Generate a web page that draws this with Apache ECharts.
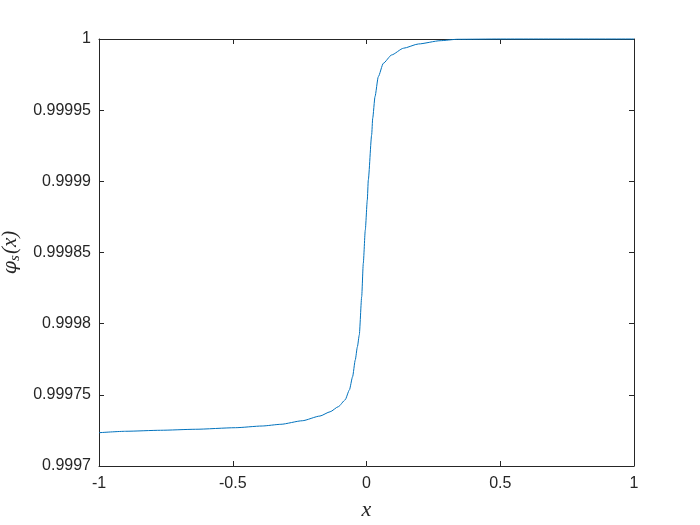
<!DOCTYPE html>
<html>
<head>
<meta charset="utf-8">
<script src="https://cdn.jsdelivr.net/npm/echarts@6/dist/echarts.min.js"></script>
<style>html,body{margin:0;padding:0;background:#fff}#c{width:700px;height:525px}</style>
</head>
<body>
<div id="c"></div>
<script>
const xVals = [-1, -0.9, -0.77, -0.64, -0.49, -0.39, -0.32, -0.24, -0.174, -0.136, -0.105, -0.08, -0.064, -0.052, -0.042, -0.034, -0.027, -0.018, -0.012, -0.0045, 0.003, 0.0067, 0.0193, 0.0232, 0.0318, 0.0441, 0.0628, 0.094, 0.138, 0.194, 0.275, 0.34, 0.5, 0.75, 1];
const yVals = [0.9997234, 0.9997244, 0.9997251, 0.9997258, 0.9997269, 0.9997281, 0.9997293, 0.9997318, 0.9997351, 0.9997381, 0.9997417, 0.9997464, 0.9997534, 0.9997627, 0.9997745, 0.9997838, 0.999792, 0.9998189, 0.9998424, 0.9998658, 0.9998869, 0.9999009, 0.9999326, 0.9999443, 0.9999595, 0.9999735, 0.9999829, 0.9999888, 0.9999935, 0.9999965, 0.9999988, 0.9999998, 1, 1, 1];
const xTicks = [-1, -0.5, 0, 0.5, 1];
const yTicks = [0.9997, 0.99975, 0.9998, 0.99985, 0.9999, 0.99995, 1];

const axisCol = '#262626';
const labelFont = {color: axisCol, fontSize: 16, fontFamily: 'Liberation Sans, Arial, sans-serif'};
const fmt = v => String(Number(v.toFixed(5)));

const chart = echarts.init(document.getElementById('c'), null, {renderer: 'canvas'});
chart.setOption({
  animation: false,
  grid: {left: 99, right: 66, top: 39, bottom: 59, containLabel: false, outerBoundsMode: 'none'},
  xAxis: [{
    type: 'value', min: -1, max: 1, interval: 0.5, position: 'bottom',
    axisLine: {show: true, onZero: false, lineStyle: {color: axisCol, width: 1}},
    axisTick: {show: true, inside: true, length: 5, lineStyle: {color: axisCol}},
    axisLabel: Object.assign({margin: 10, formatter: v => xTicks.includes(v) ? fmt(v) : ''}, labelFont),
    splitLine: {show: false},
    name: 'x', nameLocation: 'middle', nameGap: 33,
    nameTextStyle: {fontFamily: 'Liberation Serif, serif', fontStyle: 'italic', fontSize: 22, color: axisCol}
  }, {
    type: 'value', min: -1, max: 1, interval: 0.5, position: 'top',
    axisLine: {show: true, onZero: false, lineStyle: {color: axisCol, width: 1}},
    axisTick: {show: true, inside: true, length: 5, lineStyle: {color: axisCol}},
    axisLabel: {show: false}, splitLine: {show: false}
  }],
  yAxis: [{
    type: 'value', min: 0.9997, max: 1, interval: 0.00005, position: 'left',
    axisLine: {show: true, onZero: false, lineStyle: {color: axisCol, width: 1}},
    axisTick: {show: true, inside: true, length: 5, lineStyle: {color: axisCol}},
    axisLabel: Object.assign({margin: 8, formatter: v => fmt(v)}, labelFont),
    splitLine: {show: false},
    name: '{a|φ}{b|s}{c|(x)}', nameLocation: 'middle', nameGap: 72, nameRotate: 90,
    nameTextStyle: {
      color: axisCol,
      rich: {
        a: {fontFamily: 'DejaVu Serif, serif', fontStyle: 'italic', fontSize: 19, color: axisCol},
        b: {fontFamily: 'Liberation Serif, serif', fontStyle: 'italic', fontSize: 15, color: axisCol, padding: [8, 1, 0, 0]},
        c: {fontFamily: 'Liberation Serif, serif', fontStyle: 'italic', fontSize: 21, color: axisCol}
      }
    }
  }, {
    type: 'value', min: 0.9997, max: 1, interval: 0.00005, position: 'right',
    axisLine: {show: true, onZero: false, lineStyle: {color: axisCol, width: 1}},
    axisTick: {show: true, inside: true, length: 5, lineStyle: {color: axisCol}},
    axisLabel: {show: false}, splitLine: {show: false}
  }],
  series: [{
    type: 'line', xAxisIndex: 0, yAxisIndex: 0,
    data: xVals.map((x, i) => [x, yVals[i]]),
    showSymbol: false, smooth: 0.2, smoothMonotone: 'x', clip: false,
    lineStyle: {color: '#0072BD', width: 1}
  }]
});
</script>
</body>
</html>
